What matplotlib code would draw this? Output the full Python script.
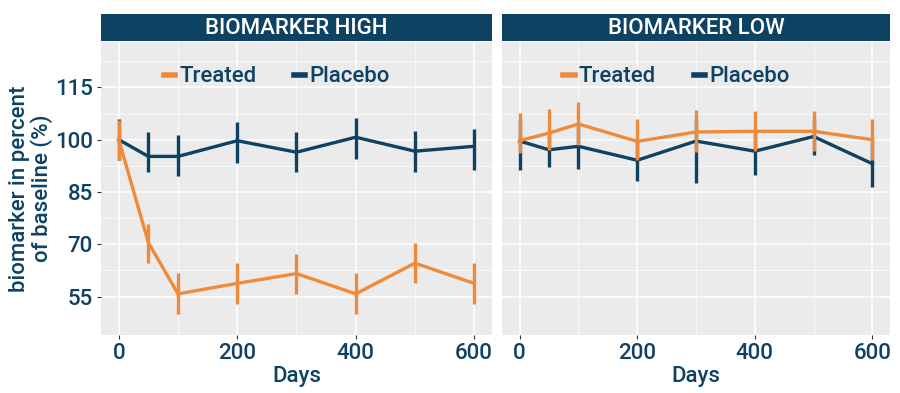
import numpy as np
import matplotlib.pyplot as plt
from matplotlib.lines import Line2D

# days of the visits
days = [0, 50, 100, 200, 300, 400, 500, 600]
panels = ["BIOMARKER HIGH", "BIOMARKER LOW"]

# biomarker high
high_treated = [100.0, 70.5, 55.8, 58.8, 61.6, 55.8, 64.6, 58.8]
high_treated_lo = [94.2, 64.5, 50.0, 53.0, 55.8, 50.1, 58.9, 53.0]
high_treated_hi = [105.7, 75.9, 61.8, 64.5, 67.3, 61.8, 70.4, 64.6]
high_placebo = [100.0, 95.2, 95.2, 99.7, 96.4, 100.7, 96.7, 98.1]
high_placebo_lo = [94.2, 90.6, 89.7, 93.3, 90.6, 94.6, 90.8, 91.4]
high_placebo_hi = [105.8, 102.2, 101.4, 105.1, 102.2, 106.2, 102.4, 103.2]

# biomarker low
low_treated = [99.7, 101.9, 104.5, 99.5, 102.2, 102.4, 102.4, 100.0]
low_treated_lo = [96.2, 97.1, 98.6, 94.3, 96.6, 96.8, 96.8, 94.3]
low_treated_hi = [107.6, 108.8, 110.7, 105.9, 108.4, 108.2, 108.3, 105.9]
low_placebo = [99.6, 97.1, 98.1, 94.1, 99.6, 96.7, 100.9, 93.1]
low_placebo_lo = [91.2, 92.2, 91.6, 88.1, 87.6, 89.8, 95.7, 86.4]
low_placebo_hi = [106.0, 102.0, 104.0, 100.0, 106.0, 103.0, 106.0, 99.5]

c_treated = "#EF8A3A"
c_placebo = "#0E4263"
c_text = "#0E4263"

plt.rcParams["font.family"] = ["Roboto", "DejaVu Sans"]
plt.rcParams["font.weight"] = "medium"
plt.rcParams["axes.labelweight"] = "medium"

fig = plt.figure(figsize=(9, 3.93), dpi=100)
ax1 = fig.add_axes([0.1122, 0.1476, 0.4344, 0.7455])
ax2 = fig.add_axes([0.5578, 0.1476, 0.4311, 0.7455])

data = [
    (high_treated, high_treated_lo, high_treated_hi, high_placebo, high_placebo_lo, high_placebo_hi),
    (low_treated, low_treated_lo, low_treated_hi, low_placebo, low_placebo_lo, low_placebo_hi),
]

for ax, title, d in zip([ax1, ax2], panels, data):
    tr, tr_lo, tr_hi, pl, pl_lo, pl_hi = d
    ax.set_facecolor("#EBEBEB")
    ax.set_xlim(-30, 630)
    ax.set_ylim(44, 128)
    ax.set_xticks([0, 200, 400, 600])
    ax.set_xticks([100, 300, 500], minor=True)
    ax.set_yticks([55, 70, 85, 100, 115])
    ax.set_yticks([62.5, 77.5, 92.5, 107.5, 122.5], minor=True)
    ax.grid(True, which="major", color="white", lw=1.1)
    ax.grid(True, which="minor", color="white", lw=0.5)
    ax.set_axisbelow(True)
    for s in ax.spines.values():
        s.set_visible(False)
    ax.tick_params(which="both", length=0)
    ax.tick_params(which="major", length=3, color="#333333", labelsize=16, labelcolor=c_text, pad=3)

    # placebo first, treated on top
    ax.plot(days, pl, color=c_placebo, lw=2.4)
    ax.vlines(days, pl_lo, pl_hi, color=c_placebo, lw=2.4)
    ax.plot(days, tr, color=c_treated, lw=2.4)
    ax.vlines(days, tr_lo, tr_hi, color=c_treated, lw=2.4)

    ax.set_xlabel("Days", fontsize=16, color=c_text, labelpad=1)

    handles = [Line2D([], [], color=c_treated, lw=4), Line2D([], [], color=c_placebo, lw=4)]
    leg = ax.legend(handles, ["Treated", "Placebo"], loc="upper center", bbox_to_anchor=(0.45, 0.985),
                    ncol=2, frameon=False, fontsize=16, handlelength=0.5, handletextpad=0.2,
                    columnspacing=1.7, labelcolor=c_text, borderaxespad=0.5)

    # facet strip
    pos = ax.get_position()
    sax = fig.add_axes([pos.x0, 1 - 41 / 393, pos.width, 27 / 393])
    sax.set_facecolor(c_placebo)
    sax.set_xticks([])
    sax.set_yticks([])
    for s in sax.spines.values():
        s.set_visible(False)
    sax.text(0.5, 0.45, title, color="white", fontsize=16, ha="center", va="center",
             transform=sax.transAxes)

ax2.tick_params(axis="y", labelleft=False, length=0)
ax1.set_ylabel("biomarker in percent\nof baseline (%)", fontsize=16, color=c_text, linespacing=1.05, labelpad=1)

fig.savefig("out.png", dpi=100, facecolor="white")
